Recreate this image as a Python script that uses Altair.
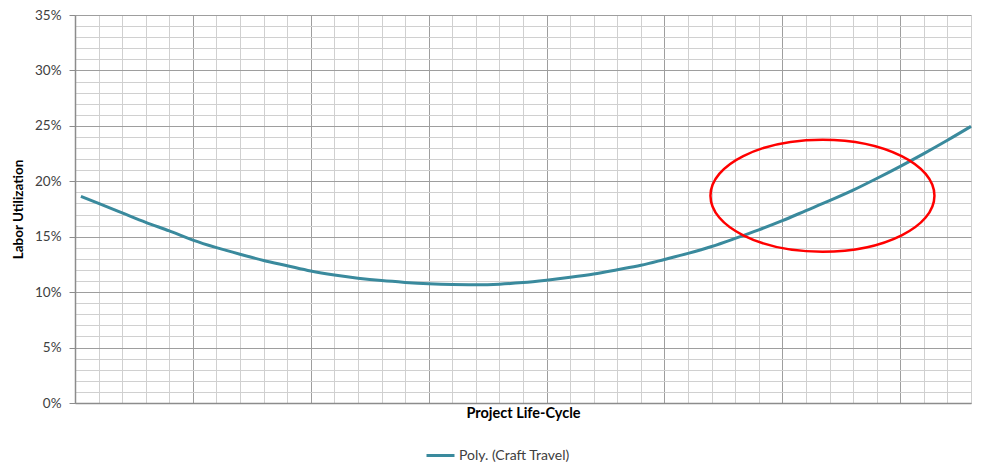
import altair as alt
import pandas as pd

# Trendline readings (x in grid units along the life-cycle, y in %)
life_cycle = [0.25, 1, 2, 3, 4, 5, 6, 7, 8, 9, 10, 11, 12, 13, 14, 15, 16, 17, 18, 19,
              20, 21, 22, 23, 24, 25, 26, 27, 28, 29, 30, 31, 32, 33, 34, 35, 36, 37, 38]
utilization = [18.63, 18.0, 17.15, 16.3, 15.52, 14.7, 14.02, 13.42, 12.86, 12.38,
               11.9, 11.54, 11.26, 11.04, 10.88, 10.76, 10.69, 10.67, 10.72, 10.86,
               11.08, 11.34, 11.64, 12.02, 12.42, 12.95, 13.5, 14.12, 14.85, 15.62,
               16.45, 17.35, 18.25, 19.2, 20.25, 21.35, 22.5, 23.7, 24.95]
series_name = "Poly. (Craft Travel)"

# Axis tick values
x_ticks = list(range(0, 39))
y_ticks = list(range(0, 36))

# Highlight ellipse annotation (centre in data units)
ellipse_x = [31.7]
ellipse_y = [18.7]

df = pd.DataFrame({"u": life_cycle, "v": utilization, "series": [series_name] * len(life_cycle)})
df_ell = pd.DataFrame({"u": ellipse_x, "v": ellipse_y})

FONT = "Lato"
TEAL = "#3A8A9D"
MAJOR = "#9E9E9E"
MINOR = "#D0D0D0"

x_scale = alt.Scale(domain=[0, 38], nice=False, zero=False)
y_scale = alt.Scale(domain=[0, 35], nice=False)

x_axis = alt.Axis(
    values=x_ticks, labels=False, ticks=False, grid=True,
    gridColor={"condition": {"test": "datum.value % 5 === 0", "value": MAJOR}, "value": MINOR},
    gridWidth=1, domainColor="#8C8C8C", domainWidth=1.5,
    title="Project Life-Cycle", titleFont=FONT, titleFontSize=14.5, titleFontWeight="bold",
    titleColor="#000000", titlePadding=3,
)
y_axis = alt.Axis(
    values=y_ticks, grid=True,
    gridColor={"condition": {"test": "datum.value % 5 === 0", "value": MAJOR}, "value": MINOR},
    gridWidth=1,
    tickOpacity={"condition": {"test": "datum.value % 5 === 0", "value": 1}, "value": 0},
    tickSize=6, tickColor="#8C8C8C", domainColor="#8C8C8C", domainWidth=1.5,
    labelExpr="datum.value % 5 === 0 ? datum.value + '%' : ''",
    labelOverlap=False, labelFont=FONT, labelFontSize=13.5, labelColor="#404040", labelPadding=8,
    title="Labor Utilization", titleFont=FONT, titleFontSize=13.5, titleFontWeight="bold",
    titleColor="#000000", titlePadding=9,
)

line = alt.Chart(df).mark_line(strokeWidth=3, interpolate="monotone").encode(
    x=alt.X("u:Q", scale=x_scale, axis=x_axis),
    y=alt.Y("v:Q", scale=y_scale, axis=y_axis),
    color=alt.Color(
        "series:N",
        scale=alt.Scale(domain=[series_name], range=[TEAL]),
        legend=alt.Legend(
            title=None, orient="none", legendX=350, legendY=425,
            symbolType="stroke", symbolStrokeWidth=3, symbolSize=784,
            labelFont=FONT, labelFontSize=14, labelColor="#404040", labelOffset=3,
        ),
    ),
)

ellipse = alt.Chart(df_ell).mark_point(
    shape="M -1 0 A 1 0.5 0 1 1 1 0 A 1 0.5 0 1 1 -1 0 Z",
    size=50176, filled=False, stroke="#FF0000", strokeWidth=2.5, opacity=1,
).encode(
    x=alt.X("u:Q", scale=x_scale, axis=x_axis),
    y=alt.Y("v:Q", scale=y_scale, axis=y_axis),
)

chart = alt.layer(line, ellipse).properties(
    width=896, height=388,
    autosize=alt.AutoSizeParams(type="none"),
    padding={"left": 67, "top": 7, "right": 2, "bottom": 62},
).configure_view(strokeWidth=0)

chart.save("out.html", embed_options={"renderer": "svg", "actions": False})
